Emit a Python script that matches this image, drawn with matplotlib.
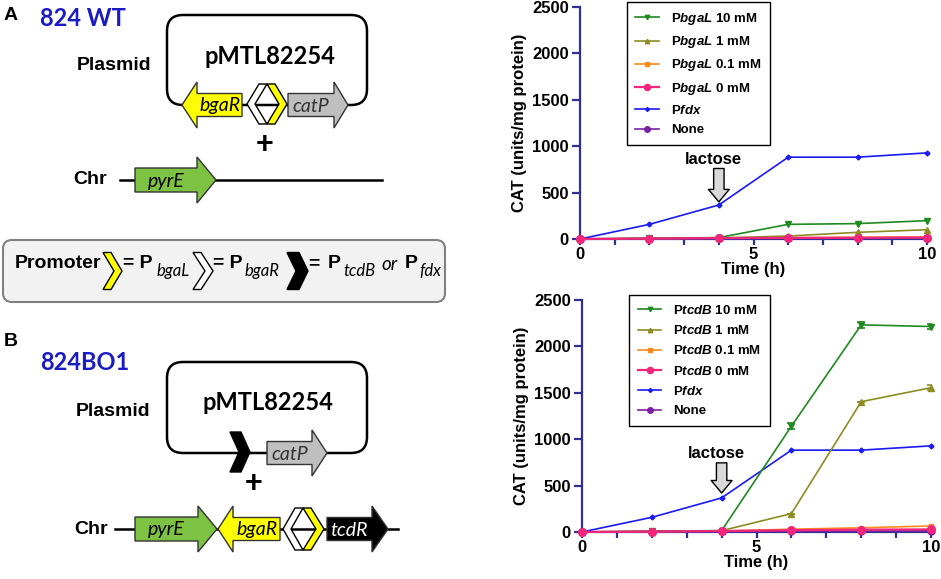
import matplotlib
matplotlib.use("Agg")
import matplotlib.pyplot as plt
from matplotlib.patches import Polygon, FancyBboxPatch
from matplotlib.ticker import MultipleLocator

plt.rcParams["font.family"] = ["Liberation Sans", "DejaVu Sans"]
plt.rcParams["mathtext.fontset"] = "custom"
plt.rcParams["mathtext.rm"] = "Liberation Sans:bold"
plt.rcParams["mathtext.it"] = "Liberation Sans:italic:bold"
plt.rcParams["mathtext.bf"] = "Liberation Sans:bold"

# ---- data ----
time_h = [0, 2, 4, 6, 8, 10]

pfdx = [0, 158, 367, 882, 882, 928]

bgal_10 = [0, 8, 15, 158, 166, 198]
bgal_1 = [0, 6, 12, 32, 72, 100]
bgal_01 = [0, 5, 10, 14, 18, 22]
bgal_0 = [0, 5, 10, 12, 14, 16]
none_a = [0, 4, 6, 8, 8, 10]

tcdb_10 = [0, 8, 15, 1140, 2232, 2214]
tcdb_10_err = [0, 0, 0, 35, 35, 25]
tcdb_1 = [0, 6, 14, 198, 1404, 1555]
tcdb_1_err = [0, 0, 0, 0, 0, 30]
tcdb_01 = [0, 5, 10, 30, 45, 65]
tcdb_0 = [0, 5, 10, 20, 25, 28]
none_b = [0, 4, 6, 8, 10, 12]

conc_labels = ["10 mM", "1 mM", "0.1 mM", "0 mM"]
y_ticks = [0, 500, 1000, 1500, 2000, 2500]

AXIS = "#2E3192"
BLUE_TXT = "#1B1BC4"
C_10 = "#1F8A1F"
C_1 = "#8C8C22"
C_01 = "#FF8A1C"
C_0 = "#F2267A"
C_FDX = "#1A1AF5"
C_NONE = "#7B1FA2"

fig = plt.figure(figsize=(9.41, 5.79), dpi=100)

# ---------------- left side: construct diagrams (pixel coordinates) ----------------
dax = fig.add_axes([0, 0, 1, 1])
dax.set_xlim(0, 941)
dax.set_ylim(579, 0)
dax.axis("off")
dax.patch.set_visible(False)

CAL = ["Lato", "DejaVu Sans"]


def gene(x0, x1, yc, direction, fc, label, head=16, hb=11.5, hh=23, tcolor="black"):
    if direction > 0:
        b = x1 - head
        pts = [(x0, yc - hb), (b, yc - hb), (b, yc - hh), (x1, yc),
               (b, yc + hh), (b, yc + hb), (x0, yc + hb)]
        tx = (x0 + b) / 2
    else:
        b = x0 + head
        pts = [(x1, yc - hb), (b, yc - hb), (b, yc - hh), (x0, yc),
               (b, yc + hh), (b, yc + hb), (x1, yc + hb)]
        tx = (b + x1) / 2
    dax.add_patch(Polygon(pts, closed=True, fc=fc, ec="#333333", lw=1, zorder=3))
    dax.text(tx, yc + 1, label, family=CAL, style="italic", fontsize=14,
             color=tcolor, ha="center", va="center", zorder=4)


def chevron(x0, yc, w, h, t, direction, fc):
    if direction > 0:
        pts = [(x0, yc - h / 2), (x0 + t, yc - h / 2), (x0 + w, yc),
               (x0 + t, yc + h / 2), (x0, yc + h / 2), (x0 + w - t, yc)]
    else:
        pts = [(x0 + w, yc - h / 2), (x0 + w - t, yc - h / 2), (x0, yc),
               (x0 + w - t, yc + h / 2), (x0 + w, yc + h / 2), (x0 + t, yc)]
    dax.add_patch(Polygon(pts, closed=True, fc=fc, ec="black", lw=1, zorder=3))


def plasmid(y_top, y_bot):
    dax.add_patch(FancyBboxPatch((167, y_top), 200, y_bot - y_top,
                                 boxstyle="round,pad=0,rounding_size=16",
                                 fc="none", ec="black", lw=1.8, zorder=2))


# panel A
dax.text(4, 16, "A", fontsize=14, weight="bold", va="center")
dax.text(40, 19, "824 WT", family=CAL, fontsize=17, weight="bold", color=BLUE_TXT, va="center")
plasmid(15, 105)
dax.text(270, 57, "pMTL82254", family=CAL, fontsize=17, weight="bold", ha="center", va="center")
dax.text(114, 65, "Plasmid", fontsize=14, weight="bold", ha="center", va="center")
gene(182, 242, 105, -1, "#FFFF00", "bgaR", head=15)
chevron(247, 104, 20, 40, 8, -1, "white")
chevron(267, 104, 20, 40, 8, 1, "#FFFF00")
gene(288, 348, 105, 1, "#BFBFBF", "catP", head=14, tcolor="#333333")
dax.text(265, 145, "+", fontsize=22, weight="heavy", ha="center", va="center")
dax.text(90, 180, "Chr", fontsize=14, weight="bold", ha="center", va="center")
dax.plot([120, 382], [180, 180], color="black", lw=1.8, zorder=2)
gene(135, 216, 180, 1, "#7DC242", "pyrE", head=19, hb=12)

# promoter legend box
dax.add_patch(FancyBboxPatch((3, 240), 442, 62, boxstyle="round,pad=0,rounding_size=9",
                             fc="#F2F2F2", ec="#808080", lw=1.5, zorder=1))
base = 268
sub = 276
dax.text(15, base, "Promoter", fontsize=14, weight="bold", va="baseline")
chevron(103, 271, 19, 37, 8, 1, "#FFFF00")
dax.text(123, base, "= P", fontsize=14, weight="bold", va="baseline")
dax.text(157, sub, "bgaL", family=CAL, style="italic", fontsize=12, va="baseline")
chevron(193, 271, 20, 37, 8, 1, "white")
dax.text(213, base, "= P", fontsize=14, weight="bold", va="baseline")
dax.text(245, sub, "bgaR", family=CAL, style="italic", fontsize=12, va="baseline")
chevron(287, 271, 21, 37, 12, 1, "black")
dax.text(308, base, "=", fontsize=14, weight="bold", va="baseline")
dax.text(328, base, "P", fontsize=14, weight="bold", va="baseline")
dax.text(343, sub, "tcdB", family=CAL, style="italic", fontsize=12, va="baseline")
dax.text(381, base + 2, "or", family=CAL, style="italic", fontsize=13.5, va="baseline")
dax.text(405, base, "P", fontsize=14, weight="bold", va="baseline")
dax.text(419, sub, "fdx", family=CAL, style="italic", fontsize=12, va="baseline")

# panel B
dax.text(4, 342, "B", fontsize=14, weight="bold", va="center")
dax.text(40, 363, "824BO1", family=CAL, fontsize=17, weight="bold", color=BLUE_TXT, va="center")
plasmid(362, 453)
dax.text(268, 403, "pMTL82254", family=CAL, fontsize=17, weight="bold", ha="center", va="center")
dax.text(113, 411, "Plasmid", fontsize=14, weight="bold", ha="center", va="center")
chevron(230, 452, 20, 40, 11, 1, "black")
gene(267, 327, 453, 1, "#BFBFBF", "catP", head=15, tcolor="#333333")
dax.text(254, 484, "+", fontsize=22, weight="heavy", ha="center", va="center")
dax.text(91, 529, "Chr", fontsize=14, weight="bold", ha="center", va="center")
dax.plot([115, 398], [529, 529], color="black", lw=1.8, zorder=2)
gene(135, 217, 529, 1, "#7DC242", "pyrE", head=19, hb=12)
gene(218, 280, 529, -1, "#FFFF00", "bgaR", head=15)
chevron(283, 529, 20, 42, 8, -1, "white")
chevron(303, 529, 21, 42, 8, 1, "#FFFF00")
gene(327, 388, 529, 1, "black", "tcdR", head=16, tcolor="white")


# ---------------- right side: CAT time courses ----------------
def panel(ax, prom, vals, errs, fdx, none, arrow_tip, arrow_top):
    colors = [C_10, C_1, C_01, C_0]
    markers = ["v", "^", "s", "o"]
    sizes = [4, 4, 3.5, 5.5]
    handles = {}
    h = ax.plot(time_h, fdx, color=C_FDX, marker="D", ms=2.5, lw=1.2, clip_on=False, zorder=5)
    handles["fdx"] = h[0]
    for i in range(3):
        h = ax.plot(time_h, vals[i], color=colors[i], marker=markers[i], ms=sizes[i],
                    lw=1.2, clip_on=False, zorder=6 - i * 0.1)
        handles[i] = h[0]
        if errs[i] is not None:
            ax.errorbar(time_h, vals[i], yerr=errs[i], fmt="none", ecolor=colors[i],
                        elinewidth=1.2, capsize=3, capthick=1.2, zorder=6)
    h = ax.plot(time_h, none, color=C_NONE, marker="o", ms=5, lw=1.2, clip_on=False, zorder=6.5)
    handles["none"] = h[0]
    h = ax.plot(time_h, vals[3], color=C_0, marker="o", ms=5.5, lw=1.6, clip_on=False, zorder=7)
    handles[3] = h[0]

    labels = ["P$%s$ %s" % (prom, c) for c in conc_labels] + ["P$fdx$", "None"]
    hl = [handles[0], handles[1], handles[2], handles[3], handles["fdx"], handles["none"]]
    leg = ax.legend(hl, labels, loc="upper left", bbox_to_anchor=(0.135, 1.02),
                    prop={"weight": "bold", "size": 9.5}, frameon=True, fancybox=False,
                    framealpha=1, edgecolor="black", handlelength=1.8, handletextpad=0.9,
                    labelspacing=0.55, borderpad=0.65, borderaxespad=0, markerscale=0.8)
    leg.get_frame().set_linewidth(1.0)

    ax.annotate("", xy=(4, arrow_tip), xytext=(4, arrow_top),
                arrowprops=dict(arrowstyle="simple,head_length=9,head_width=15,tail_width=7.5",
                                mutation_scale=1, fc="#D9D9D9", ec="black", lw=1,
                                shrinkA=0, shrinkB=0), zorder=8)
    ax.text(3.85, arrow_top + 100, "lactose", fontsize=12, weight="bold",
            ha="center", va="center")

    ax.set_xlim(0, 10)
    ax.set_ylim(0, 2500)
    ax.set_yticks(y_ticks)
    ax.set_xticks([0, 5, 10])
    ax.xaxis.set_minor_locator(MultipleLocator(1))
    for s in ["top", "right"]:
        ax.spines[s].set_visible(False)
    for s in ["left", "bottom"]:
        ax.spines[s].set_color(AXIS)
        ax.spines[s].set_linewidth(1.6)
    ax.tick_params(axis="y", which="major", length=6, width=1.6, color=AXIS, pad=2, labelsize=12)
    ax.tick_params(axis="x", which="both", length=4.5, width=1.6, color=AXIS, pad=1, labelsize=12)
    for lab in ax.get_xticklabels() + ax.get_yticklabels():
        lab.set_fontweight("bold")
    ax.set_ylabel("CAT (units/mg protein)", fontsize=12, weight="bold", labelpad=4)
    ax.set_xlabel("Time (h)", fontsize=12, weight="bold", labelpad=0)


ax1 = fig.add_axes([0.6164, 0.5872, 0.3688, 0.4007])
panel(ax1, "bgaL", [bgal_10, bgal_1, bgal_01, bgal_0], [None, None, None, None],
      pfdx, none_a, 400, 760)

ax2 = fig.add_axes([0.6185, 0.0812, 0.3709, 0.4007])
panel(ax2, "tcdB", [tcdb_10, tcdb_1, tcdb_01, tcdb_0], [tcdb_10_err, tcdb_1_err, None, None],
      pfdx, none_b, 420, 745)

fig.savefig("out.png", dpi=100)
